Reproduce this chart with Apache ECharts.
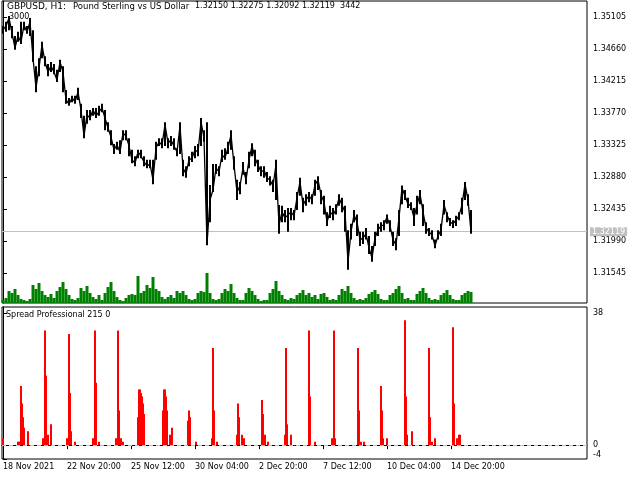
<!DOCTYPE html>
<html>
<head>
<meta charset="utf-8">
<script src="https://cdn.jsdelivr.net/npm/echarts@6/dist/echarts.min.js"></script>
<style>html,body{margin:0;padding:0;background:#fff}#c{width:640px;height:480px}</style>
</head>
<body>
<div id="c"></div>
<script>
// ---- data (H1 bars, one sample every 3 hourly bars, bar 0 = 18 Nov 2021 04:00) ----
const STEP = 3;
const closePrices = [1.34924,1.34980,1.35091,1.34882,1.34674,1.34841,1.34757,1.34994,1.34896,1.35035,
 1.34535,1.34118,1.34396,1.34716,1.34479,1.34340,1.34424,1.34340,1.34229,1.34479,
 1.34340,1.33951,1.33895,1.33979,1.33923,1.34062,1.33812,1.33451,1.33743,1.33701,
 1.33812,1.33729,1.33784,1.33840,1.33701,1.33562,1.33437,1.33256,1.33326,1.33228,
 1.33492,1.33451,1.33312,1.33117,1.33075,1.33228,1.33173,1.33089,1.33034,1.33061,
 1.32839,1.33284,1.33367,1.33326,1.33604,1.33353,1.33395,1.33312,1.33228,1.33590,
 1.33006,1.32922,1.33117,1.33145,1.33256,1.33228,1.33645,1.33423,1.31949,1.32561,
 1.32700,1.33006,1.32950,1.33187,1.33145,1.33284,1.33465,1.33048,1.32672,1.32756,
 1.33006,1.32839,1.33117,1.33312,1.33145,1.33048,1.32950,1.32978,1.32867,1.32839,
 1.32756,1.33048,1.32214,1.32394,1.32311,1.32353,1.32394,1.32339,1.32589,1.32811,
 1.32492,1.32561,1.32617,1.32561,1.32770,1.32839,1.32631,1.32533,1.32255,1.32394,
 1.32353,1.32422,1.32589,1.32492,1.32394,1.31699,1.32116,1.32353,1.32255,1.32005,
 1.32033,1.32088,1.31894,1.31755,1.32033,1.32144,1.32200,1.32214,1.32325,1.32200,
 1.32005,1.31936,1.32311,1.32728,1.32617,1.32505,1.32478,1.32311,1.32492,1.32644,
 1.32394,1.32172,1.32116,1.32075,1.31922,1.32061,1.32144,1.32492,1.32353,1.32255,
 1.32227,1.32283,1.32339,1.32492,1.32783,1.32561,1.32119];
// highest / lowest price reached inside each 3-bar sample
const binHighs = [1.3498,1.3504,1.3512,1.3498,1.3484,1.3490,1.3504,1.3504,1.3498,1.3509,
 1.3492,1.3442,1.3453,1.3476,1.3456,1.3445,1.3448,1.3445,1.3437,1.3451,
 1.3442,1.3409,1.3398,1.3401,1.3401,1.3412,1.3390,1.3373,1.3381,1.3381,
 1.3384,1.3384,1.3387,1.3390,1.3381,1.3364,1.3353,1.3334,1.3337,1.3339,
 1.3353,1.3353,1.3342,1.3326,1.3317,1.3326,1.3326,1.3317,1.3312,1.3312,
 1.3312,1.3337,1.3342,1.3342,1.3364,1.3342,1.3345,1.3342,1.3328,1.3364,
 1.3312,1.3303,1.3317,1.3323,1.3331,1.3334,1.3370,1.3353,1.3364,1.3277,
 1.3306,1.3306,1.3303,1.3326,1.3328,1.3337,1.3353,1.3317,1.3284,1.3281,
 1.3309,1.3295,1.3323,1.3335,1.3326,1.3312,1.3303,1.3303,1.3295,1.3289,
 1.3284,1.3312,1.3249,1.3248,1.3242,1.3245,1.3245,1.3242,1.3267,1.3287,
 1.3259,1.3264,1.3267,1.3264,1.3284,1.3289,1.3270,1.3262,1.3239,1.3248,
 1.3245,1.3250,1.3264,1.3259,1.3248,1.3214,1.3223,1.3242,1.3236,1.3212,
 1.3212,1.3217,1.3206,1.3192,1.3212,1.3223,1.3225,1.3228,1.3236,1.3228,
 1.3212,1.3203,1.3242,1.3276,1.3270,1.3259,1.3253,1.3245,1.3262,1.3270,
 1.3250,1.3225,1.3217,1.3214,1.3201,1.3214,1.3223,1.3256,1.3239,1.3231,
 1.3228,1.3234,1.3239,1.3259,1.3281,1.3264,1.3242];
const binLows = [1.3487,1.3490,1.3492,1.3481,1.3465,1.3476,1.3473,1.3492,1.3487,1.3484,
 1.3448,1.3406,1.3428,1.3453,1.3442,1.3428,1.3434,1.3431,1.3420,1.3434,
 1.3406,1.3390,1.3387,1.3392,1.3390,1.3395,1.3370,1.3342,1.3362,1.3367,
 1.3373,1.3370,1.3373,1.3378,1.3353,1.3351,1.3332,1.3320,1.3326,1.3320,
 1.3339,1.3339,1.3317,1.3307,1.3303,1.3314,1.3314,1.3303,1.3300,1.3300,
 1.3278,1.3312,1.3331,1.3328,1.3331,1.3328,1.3331,1.3326,1.3317,1.3320,
 1.3289,1.3287,1.3303,1.3309,1.3314,1.3317,1.3331,1.3337,1.3193,1.3225,
 1.3267,1.3292,1.3289,1.3309,1.3312,1.3320,1.3326,1.3298,1.3256,1.3264,
 1.3291,1.3278,1.3300,1.3317,1.3303,1.3295,1.3289,1.3287,1.3281,1.3276,
 1.3267,1.3256,1.3209,1.3225,1.3225,1.3212,1.3228,1.3228,1.3242,1.3262,
 1.3239,1.3248,1.3253,1.3250,1.3262,1.3270,1.3250,1.3236,1.3220,1.3231,
 1.3228,1.3236,1.3248,1.3239,1.3212,1.3159,1.3201,1.3225,1.3206,1.3192,
 1.3195,1.3201,1.3181,1.3170,1.3192,1.3206,1.3212,1.3214,1.3223,1.3212,
 1.3192,1.3186,1.3206,1.3250,1.3256,1.3245,1.3242,1.3220,1.3236,1.3250,
 1.3220,1.3209,1.3206,1.3201,1.3189,1.3201,1.3206,1.3236,1.3225,1.3220,
 1.3217,1.3220,1.3228,1.3236,1.3256,1.3248,1.3209];
const tickVolumes = [300,500,1200,1000,1400,800,400,300,200,400,
 1800,1400,2000,1200,800,600,900,500,1200,1600,
 2100,1400,800,400,300,500,1500,1200,1700,1000,
 600,400,800,300,1000,1600,2100,1200,600,300,
 200,500,800,900,800,2700,1000,1200,1800,1500,
 2600,1400,1200,600,400,600,800,500,1200,1000,
 1200,800,400,300,400,1000,1200,1100,3000,1000,
 400,300,400,1000,1400,1200,1900,1000,500,300,
 300,1000,1500,1200,800,400,200,300,300,1000,
 1400,2200,1200,800,400,300,500,400,800,1000,
 1300,800,1000,600,800,400,900,1000,600,300,
 400,300,800,1400,1200,1700,1000,500,300,400,
 300,500,900,1100,1300,900,400,300,300,800,
 1000,1400,1700,1000,400,500,300,300,900,1200,
 1500,1000,500,300,400,300,800,1000,1300,800,
 400,300,300,800,1000,1200,1100];
// spread: [bar index, points]
const spreadPoints = [[0,2],
 [15,1],[16,1],[17,1],[18,17],[19,12],[20,8],[21,5],[25,4],
 [40,2],[42,33],[43,20],[45,3],[48,6],
 [64,2],[66,32],[67,15],[68,4],[72,1],
 [90,2],[92,33],[93,18],[96,1],
 [113,2],[115,33],[116,10],[118,2],[120,1],
 [135,8],[136,16],[137,16],[138,15],[139,14],[140,12],[141,9],
 [160,10],[161,16],[162,16],[163,14],[164,10],[167,3],[169,5],
 [185,7],[186,10],[187,8],[193,1],
 [209,2],[210,28],[211,10],[214,1],
 [234,3],[235,12],[236,8],[239,3],[241,2],
 [259,13],[260,9],[262,3],[265,1],
 [282,3],[283,28],[284,6],[288,3],
 [306,33],[307,14],[312,1],
 [329,2],[331,33],[332,2],
 [355,28],[356,10],[358,1],[361,1],
 [378,17],[379,10],[380,2],[384,2],
 [402,36],[403,14],[404,3],[409,4],
 [426,28],[427,8],[429,1],[432,2],
 [450,34],[451,12],[454,2],[456,3],[457,3]];
const timeTickBars = [0,64,128,192,256,320,384,448];
const timeTickLabels = ["18 Nov 2021","22 Nov 20:00","25 Nov 12:00","30 Nov 04:00","2 Dec 20:00","7 Dec 12:00","10 Dec 04:00","14 Dec 20:00"];
const priceTicks = [1.35105,1.34660,1.34215,1.33770,1.33325,1.32880,1.32435,1.31990,1.31545];
const spreadTicks = [38,0,-4];
const ohlc = [1.32150,1.32275,1.32092,1.32119];
const lastVolume = 3442;
const lastPrice = ohlc[3];

const FONT = 'DejaVu Sans';
const F8 = '8px "DejaVu Sans"';
const priceData = closePrices.map((p,i)=>[i*STEP,p]);
const bandData = binHighs.map((h,i)=>[i*STEP,binLows[i],h]);
const volData = tickVolumes.map((v,i)=>[i*STEP,v]);

const chart = echarts.init(document.getElementById('c'), null, {renderer:'canvas'});
chart.setOption({
  animation:false,
  backgroundColor:'#fff',
  textStyle:{fontFamily:FONT},
  grid:[
    {left:2,right:53,top:1,height:302,show:true,borderColor:'#000',borderWidth:1,backgroundColor:'transparent'},
    {left:2,right:53,top:307,height:152,show:true,borderColor:'#000',borderWidth:1,backgroundColor:'transparent'}
  ],
  xAxis:[
    {gridIndex:0,type:'value',min:-1,max:584,show:false},
    {gridIndex:1,type:'value',min:-1,max:584,
     axisLine:{show:true,lineStyle:{color:'#000',width:1}},
     axisTick:{show:true,length:4,lineStyle:{color:'#000'},customValues:timeTickBars},
     axisLabel:{show:true,customValues:timeTickBars,align:'left',margin:4,fontSize:8,color:'#000',fontFamily:FONT,
       formatter:v=>{const k=timeTickBars.indexOf(v);return k>=0?timeTickLabels[k]:'';}},
     splitLine:{show:false}}
  ],
  yAxis:[
    {gridIndex:0,type:'value',position:'right',min:1.31128,max:1.35327,
     axisLine:{show:true,lineStyle:{color:'#000'}},
     axisTick:{show:true,length:4,lineStyle:{color:'#000'},customValues:priceTicks},
     axisLabel:{show:true,customValues:priceTicks,margin:6,fontSize:8,color:'#000',fontFamily:FONT,formatter:v=>v.toFixed(5)},
     splitLine:{show:false}},
    {gridIndex:0,type:'value',min:0,max:30200,show:false},
    {gridIndex:1,type:'value',position:'right',min:-4,max:39.8,
     axisLine:{show:true,lineStyle:{color:'#000'}},
     axisTick:{show:true,length:4,lineStyle:{color:'#000'},customValues:spreadTicks},
     axisLabel:{show:true,customValues:spreadTicks,margin:6,fontSize:8,color:'#000',fontFamily:FONT,
       formatter:v=>v===-4?'{lo|-4}':String(v),rich:{lo:{fontSize:8,fontFamily:FONT,color:'#000',padding:[0,0,9,0]}}},
     splitLine:{show:false}}
  ],
  graphic:[
    {type:'text',left:9,top:13,z:0,style:{text:'3000',font:F8,fill:'#000'}},
    {type:'text',left:7,top:2,z:100,style:{text:'GBPUSD, H1:',font:'9px "DejaVu Sans"',fill:'#000'}},
    {type:'text',left:73,top:2,z:100,style:{text:'Pound Sterling vs US Dollar',font:'8.5px "DejaVu Sans"',fill:'#000'}},
    {type:'text',left:195,top:2,z:100,style:{text:ohlc.map(v=>v.toFixed(5)).join(' ')+'  '+lastVolume,font:F8,fill:'#000'}},
    {type:'text',left:6,top:311,z:100,style:{text:'Spread Professional 215 0',font:F8,fill:'#000'}}
  ],
  series:[
    {type:'bar',xAxisIndex:0,yAxisIndex:1,data:volData,barWidth:3,itemStyle:{color:'#008000'},silent:true,z:1},
    {type:'custom',xAxisIndex:0,yAxisIndex:0,data:bandData,silent:true,z:3,clip:true,
     encode:{x:0,y:[1,2]},
     renderItem:(params,api)=>{
       const lo=api.coord([api.value(0),api.value(1)]);
       const hi=api.coord([api.value(0),api.value(2)]);
       const w=api.size([STEP,0])[0]*2/3;
       return {type:'rect',shape:{x:lo[0]-w/2,y:hi[1],width:w,height:Math.max(1,lo[1]-hi[1])},style:{fill:'#000'}};
     }},
    {type:'line',xAxisIndex:0,yAxisIndex:0,data:priceData,showSymbol:false,silent:true,z:4,
     lineStyle:{color:'#000',width:1.3},
     markLine:{silent:true,symbol:'none',precision:5,z:2,
       lineStyle:{color:'#c0c0c0',width:1,type:'solid'},
       label:{show:true,position:'end',distance:3,formatter:lastPrice.toFixed(5),color:'#fff',backgroundColor:'#c0c0c0',padding:[1,2,0,2],fontSize:8,fontFamily:FONT},
       data:[{yAxis:lastPrice}]}},
    {type:'bar',xAxisIndex:1,yAxisIndex:2,data:spreadPoints,barWidth:2,itemStyle:{color:'#ff0000'},silent:true,z:3,
     markLine:{silent:true,symbol:'none',z:2,
       lineStyle:{color:'#c0c0c0',width:1,type:[4,3]},
       label:{show:false},
       data:[{yAxis:0}]}}
  ]
});
</script>
</body>
</html>
